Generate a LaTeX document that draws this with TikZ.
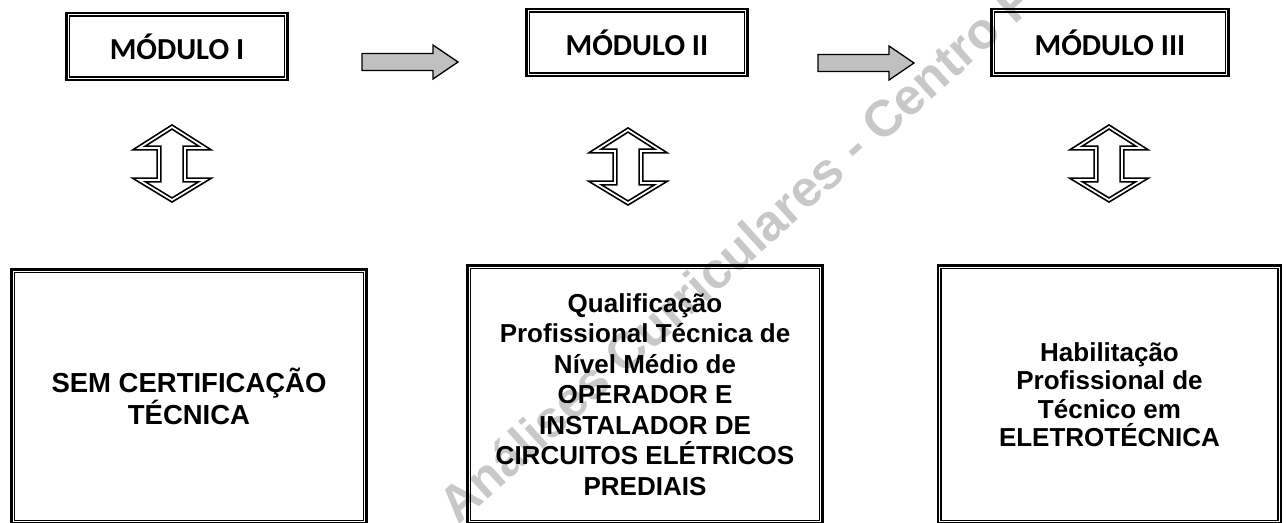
\documentclass[tikz,border=0pt]{standalone}
\usepackage{fontspec}
\setmainfont{Liberation Sans}
\newfontfamily\calibri{Carlito}
\definecolor{arrowgray}{RGB}{192,192,192}
\definecolor{wmgray}{RGB}{200,200,200}
\begin{document}
\begin{tikzpicture}[x=1pt,y=-1pt,
  dblbox/.style={draw, line width=2.6pt, inner sep=0pt,
    append after command={\pgfextra{\draw[line width=1.3pt]
      ([shift={(4.2pt,-4.2pt)}]\tikzlastnode.north west) rectangle
      ([shift={(-4.2pt,4.2pt)}]\tikzlastnode.south east);}}},
  modbox/.style={dblbox, minimum height=67pt,
    font=\calibri\bfseries\fontsize{30.5}{36}\selectfont},
  certbox/.style={dblbox, align=center},
  rarrow/.pic={\draw[fill=arrowgray, line width=1.3pt, line join=miter]
    (0,-8.5) -- (71,-8.5) -- (71,-17) -- (96,0) -- (71,17) -- (71,8.5) -- (0,8.5) -- cycle;},
  udarrow/.pic={\draw[line width=1.7pt, double=white, double distance=1.7pt, line join=miter]
    (0,-36.5) -- (33,-15.5) -- (13,-15.5) -- (13,16.5) -- (33,16.5) -- (0,36.5)
    -- (-33,16.5) -- (-13,16.5) -- (-13,-15.5) -- (-33,-15.5) -- cycle;}
]
\useasboundingbox (0,0) rectangle (1287,522);
\clip (0,0) rectangle (1287,522);

% watermark
\node[rotate=42, anchor=base west, inner sep=0pt, text=wmgray,
  font=\bfseries\fontsize{51}{60}\selectfont] (wm) at (458,526)
  {Análises Curriculares - Centro Paula Souza};

% module boxes
\node[modbox, minimum width=221pt] (m1) at (177,46.5) {MÓDULO I};
\node[modbox, minimum width=221pt] (m2) at (637,42.5) {MÓDULO II};
\node[modbox, minimum width=237pt] (m3) at (1110,42.5) {MÓDULO III};

% horizontal arrows
\coordinate (a1) at (362,62);
\coordinate (a2) at (818,63);
\pic at (a1) {rarrow};
\pic at (a2) {rarrow};

% vertical double arrows
\coordinate (d1) at (172,163.5);
\coordinate (d2) at (628,166.5);
\coordinate (d3) at (1109,163.5);
\pic at (d1) {udarrow};
\pic at (d2) {udarrow};
\pic at (d3) {udarrow};

% certification boxes
\node[certbox, minimum width=355pt, minimum height=254pt,
  font=\bfseries\fontsize{27.5}{31.5}\selectfont] (c1) at (189,396.5)
  {SEM CERTIFICAÇÃO\\TÉCNICA};
\node[certbox, minimum width=355pt, minimum height=258pt,
  font=\bfseries\fontsize{26}{30.5}\selectfont] (c2) at (645,394.5)
  {Qualificação\\Profissional Técnica de\\Nível Médio de\\OPERADOR E\\INSTALADOR DE\\CIRCUITOS ELÉTRICOS\\PREDIAIS};
\node[certbox, minimum width=343pt, minimum height=258pt,
  font=\bfseries\fontsize{26}{28.5}\selectfont] (c3) at (1109.5,394.5)
  {Habilitação\\Profissional de\\Técnico em\\ELETROTÉCNICA};
\end{tikzpicture}
\end{document}
